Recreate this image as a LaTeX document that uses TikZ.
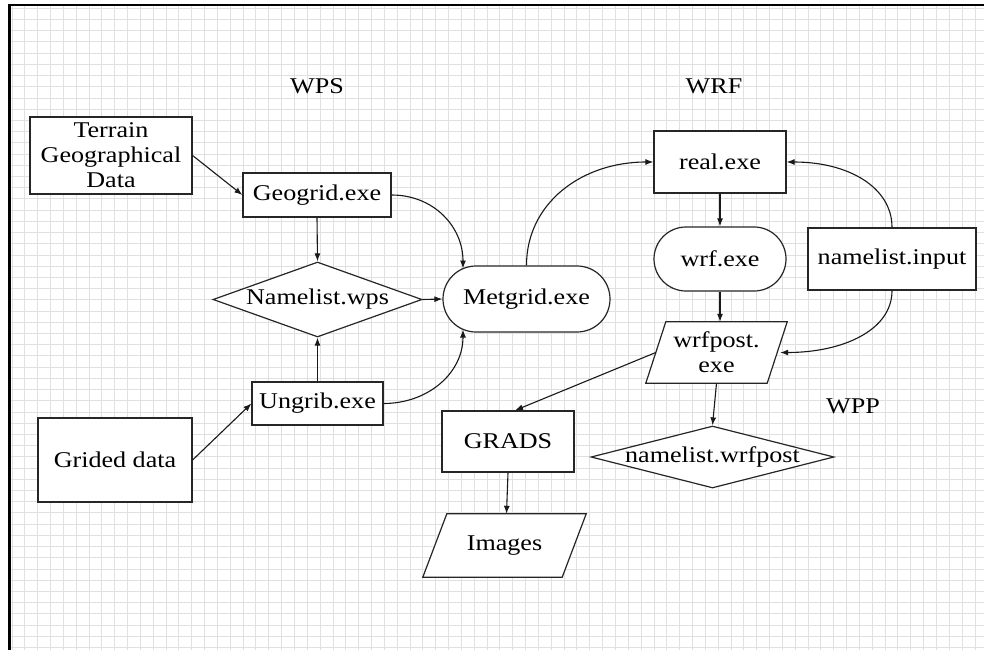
\documentclass[tikz,border=0pt]{standalone}
\usepackage{fontspec}
\setmainfont{Liberation Serif}[FakeStretch=1.16]
\usetikzlibrary{shapes.geometric,shapes.misc,arrows.meta,calc}
\begin{document}
\begin{tikzpicture}[x=1pt,y=-1pt,
  every node/.style={font=\fontsize{22.5}{25}\selectfont},
  box/.style={draw=black!85, line width=1.2pt, fill=white, rectangle, inner sep=0pt, align=center},
  stad/.style={draw=black!85, line width=1.2pt, fill=white, rounded rectangle, inner sep=0pt},
  dmd/.style={draw=black!85, line width=1.2pt, fill=white, diamond, inner sep=0pt},
  ghost/.style={rectangle, inner sep=0pt},
  para/.style={draw=black!85, line width=1.2pt, fill=white},
  txt/.style={align=center, inner sep=0pt},
  arr/.style={-{Latex[length=8pt,width=6pt]}, line width=1.1pt, draw=black!90},
  gridline/.style={draw=black!12, line width=1pt}
]
\useasboundingbox (0,0) rectangle (984,650);
\fill[white] (0,0) rectangle (984,650);
% grid
\foreach \i in {0,...,75} {\draw[gridline] ({12+12.84*\i},5) -- ({12+12.84*\i},650);}
\foreach \j in {0,...,57} {\draw[gridline] (10,{8.3+11.215*\j}) -- (984,{8.3+11.215*\j});}
% frame
\draw[line width=2pt] (8,5) -- (984,5);
\draw[line width=3pt] (9.5,4) -- (9.5,650);

% labels
\node[txt] (lblwps) at (317,86) {WPS};
\node[txt] (lblwrf) at (714,86) {WRF};
\node[txt] (lblwpp) at (853,406) {WPP};

% WPS nodes
\node[box, minimum width=162, minimum height=77] (terrain) at (111,155.5) {Terrain\\Geographical\\Data};
\node[box, minimum width=148, minimum height=44] (geogrid) at (317,195) {Geogrid.exe};
\node[dmd, minimum width=209, minimum height=75] (nlwps) at (317.5,299.5) {};
\node[txt] (nlwpst) at (nlwps) {Namelist.wps};
\node[box, minimum width=131, minimum height=43] (ungrib) at (317.5,403.5) {Ungrib.exe};
\node[box, minimum width=154, minimum height=84] (grided) at (115,460) {Grided data};
\node[stad, minimum width=167, minimum height=66] (metgrid) at (526.5,299) {Metgrid.exe};

% WRF nodes
\node[box, minimum width=132, minimum height=62] (real) at (720,162) {real.exe};
\node[stad, minimum width=132, minimum height=64] (wrf) at (720,259) {wrf.exe};
\node[box, minimum width=168, minimum height=62] (nlinput) at (892,259) {namelist.input};
\node[ghost, minimum width=121, minimum height=61] (wrfpost) at (716.5,352.5) {};
\filldraw[para] ([xshift=10pt]wrfpost.north west) -- ([xshift=10pt]wrfpost.north east)
  -- ([xshift=-10pt]wrfpost.south east) -- ([xshift=-10pt]wrfpost.south west) -- cycle;
\node[txt] (wrfpostt) at (wrfpost) {wrfpost.\\exe};

% WPP nodes
\node[box, minimum width=132, minimum height=61] (grads) at (508,441.5) {GRADS};
\node[ghost, minimum width=139, minimum height=63] (images) at (504.5,545.5) {};
\filldraw[para] ([xshift=12pt]images.north west) -- ([xshift=12pt]images.north east)
  -- ([xshift=-12pt]images.south east) -- ([xshift=-12pt]images.south west) -- cycle;
\node[txt] (imagest) at (images) {Images};
\node[dmd, minimum width=243, minimum height=62] (nlwp) at (712.5,457) {};
\node[txt] (nlwpt) at (nlwp) {namelist.wrfpost};

% connectors
\draw[arr] (terrain.east) -- (geogrid.west);
\draw[arr] (geogrid.south) -- (nlwps.north);
\draw[arr] (ungrib.north) -- (nlwps.south);
\draw[arr] (grided.east) -- (ungrib.west);
\draw[arr] (nlwps.east) -- (metgrid.west);
\draw[arr] (geogrid.east) .. controls +(42,0) and +(0,-42) .. ($(metgrid.center)+(-63.5,-30.5)$);
\draw[arr] (ungrib.east) .. controls +(44,0) and +(0,44) .. ($(metgrid.center)+(-63.5,30.5)$);
\draw[arr] (metgrid.north) .. controls +(0,-62) and +(-72,0) .. (real.west);
\draw[arr] (real.south) -- (wrf.north);
\draw[arr] (nlinput.north) .. controls +(0,-40) and +(62,0) .. (real.east);
\draw[arr] (wrf.south) -- (wrf.south |- wrfpost.north);
\draw[arr] (nlinput.south) .. controls +(0,40) and +(62,0) .. ([xshift=3pt]wrfpost.east);
\draw[arr] (wrfpost.west) -- ([xshift=7pt]grads.north);
\draw[arr] (wrfpost.south) -- (nlwp.north);
\draw[arr] (grads.south) -- ([xshift=2pt]images.north);
\end{tikzpicture}
\end{document}
